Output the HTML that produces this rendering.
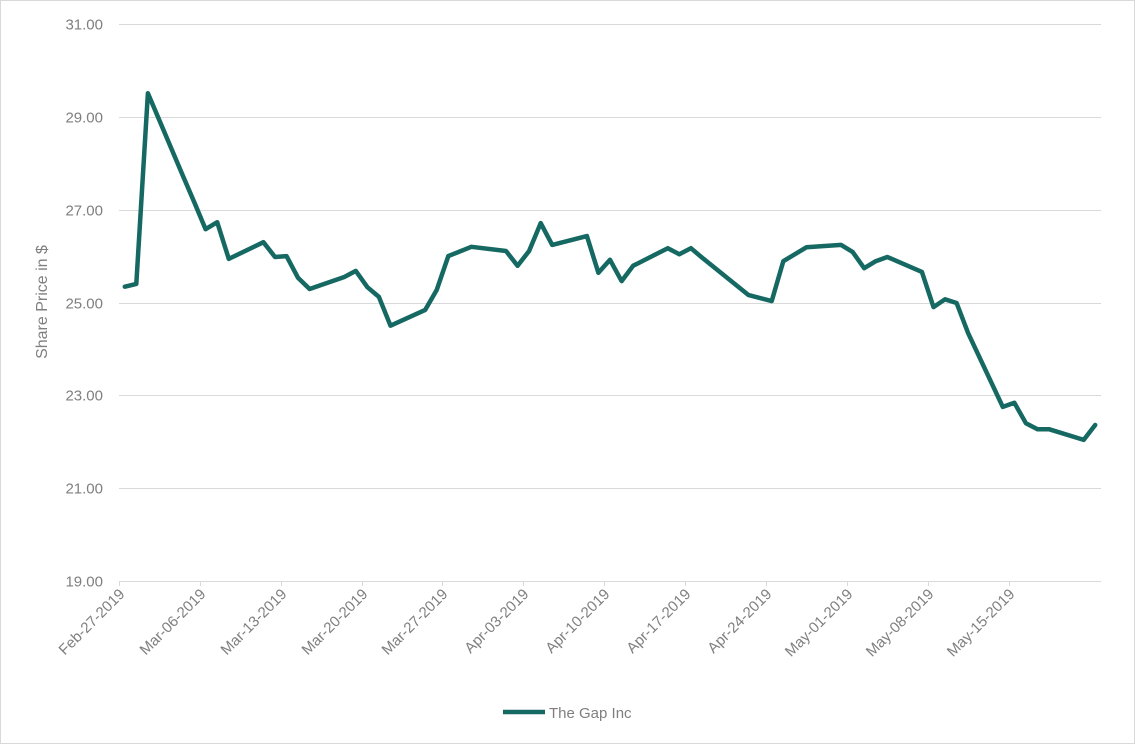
<!DOCTYPE html>
<html><head><meta charset="utf-8"><style>
html,body{margin:0;padding:0;background:#fff;}
svg{display:block;font-family:"Liberation Sans",Arial,sans-serif;}
</style></head><body>
<svg id="chart" width="1135" height="744" viewBox="0 0 1135 744">
<rect x="0.5" y="0.5" width="1134" height="743" fill="#fff" stroke="#d9d9d9"/>
<g id="grid"></g>
<g id="yticks"></g>
<g id="xaxis"></g>
<g id="series"></g>
<text x="47" y="302" transform="rotate(-90 47 302)" text-anchor="middle" font-size="16" fill="#7f7f7f">Share Price in $</text>
<g>
<line x1="503" y1="712" x2="545" y2="712" stroke="#156962" stroke-width="4.5"/>
<text x="549" y="718" font-size="15" fill="#7f7f7f">The Gap Inc</text>
</g>
</svg>
<script>
const dayOffsets=[0,1,2,5,6,7,8,9,12,13,14,15,16,19,20,21,22,23,26,27,28,30,33,34,35,36,37,40,41,42,43,44,47,48,49,50,54,56,57,59,62,63,64,65,66,69,70,71,72,73,76,77,78,79,80,83,84];
const prices=[25.34,25.40,29.51,27.75,27.17,26.58,26.73,25.94,26.30,25.98,26.00,25.53,25.29,25.55,25.68,25.33,25.12,24.50,24.84,25.27,26.00,26.20,26.11,25.79,26.11,26.71,26.24,26.43,25.64,25.92,25.46,25.79,26.17,26.04,26.17,25.96,25.16,25.03,25.89,26.19,26.24,26.09,25.74,25.89,25.98,25.66,24.90,25.07,24.99,24.34,22.75,22.84,22.40,22.27,22.27,22.04,22.36];
const yTicks=[19,21,23,25,27,29,31];
const xTickDays=[0,7,14,21,28,35,42,49,56,63,70,77];
const xTickLabels=["Feb-27-2019","Mar-06-2019","Mar-13-2019","Mar-20-2019","Mar-27-2019","Apr-03-2019","Apr-10-2019","Apr-17-2019","Apr-24-2019","May-01-2019","May-08-2019","May-15-2019"];

const NS="http://www.w3.org/2000/svg";
const L=119,R=1101,T=24,B=581,YMIN=19,YMAX=31,NDAYS=85;
const dw=(R-L)/NDAYS;
function yS(v){return B-(v-YMIN)/(YMAX-YMIN)*(B-T);}
function tickX(d){return L+d*dw;}
function ptX(d){return L+(d+0.5)*dw;}
function mk(tag,attrs,parent){const e=document.createElementNS(NS,tag);for(const k in attrs)e.setAttribute(k,attrs[k]);parent.appendChild(e);return e;}

const grid=document.getElementById('grid'),yt=document.getElementById('yticks'),xa=document.getElementById('xaxis'),ser=document.getElementById('series');
yTicks.forEach(v=>{
  const y=Math.round(yS(v))+0.5;
  if(v!==YMIN){
    const g=mk('line',{x1:L,x2:R,y1:y,y2:y,stroke:'#d9d9d9','stroke-width':1},grid);
    
    
  }
  const t=mk('text',{x:103,y:y+5,'text-anchor':'end','font-size':15,fill:'#7f7f7f'},yt);
  t.textContent=v.toFixed(2);
  
  
});
const ax=mk('line',{x1:L,x2:R,y1:B+0.5,y2:B+0.5,stroke:'#d9d9d9','stroke-width':1},xa);


xTickDays.forEach((d,i)=>{
  const x=Math.round(tickX(d))+0.5;
  const tm=mk('line',{x1:x,x2:x,y1:B,y2:B+5,stroke:'#d9d9d9'},xa);
  
  
  const t=mk('text',{x:x+6,y:B+14,'text-anchor':'end','font-size':15,fill:'#7f7f7f',transform:'rotate(-45 '+(x+6)+' '+(B+14)+')'},xa);
  t.textContent=xTickLabels[i];
  
  
});
const pts=dayOffsets.map((d,i)=>ptX(d).toFixed(1)+','+yS(prices[i]).toFixed(1)).join(' ');
const pl=mk('polyline',{points:pts,fill:'none',stroke:'#156962','stroke-width':4.5,'stroke-linejoin':'round','stroke-linecap':'round'},ser);


</script>
</body></html>
